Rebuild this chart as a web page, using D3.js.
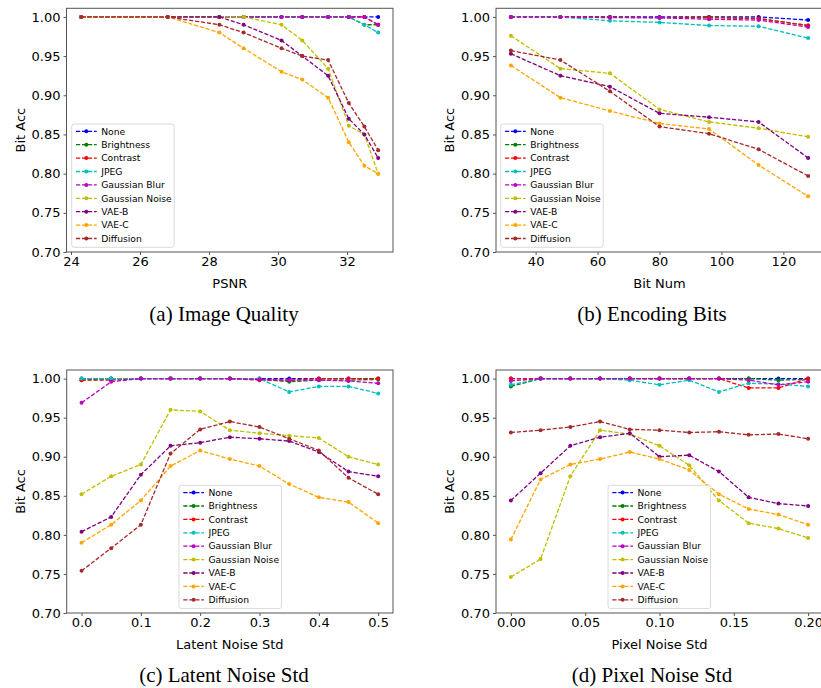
<!DOCTYPE html>
<html>
<head>
<meta charset="utf-8">
<script src="https://cdn.jsdelivr.net/npm/d3@7"></script>
<style>
  body { margin: 0; background: #fff; }
  svg { display: block; }
  .tick text { font-family: "DejaVu Sans", sans-serif; font-size: 13px; fill: #000; }
  .tick line { stroke: #555; }
  .axis-label { font-family: "DejaVu Sans", sans-serif; font-size: 13px; }
  .caption { font-family: "Liberation Serif", "Times New Roman", serif; font-size: 21px; }
  .legend text { font-family: "DejaVu Sans", sans-serif; font-size: 9.2px; }
</style>
</head>
<body>
<div id="chart"></div>
<script>
// series names + matplotlib colours
const names = ["None", "Brightness", "Contrast", "JPEG", "Gaussian Blur", "Gaussian Noise", "VAE-B", "VAE-C", "Diffusion"];
const colors = ["#0000ff", "#008000", "#ff0000", "#00bfbf", "#bf00bf", "#bfbf00", "#800080", "#ffa500", "#a52a2a"];

// (a) image quality
const psnrX = [24.3, 26.8, 28.3, 29.0, 30.1, 30.7, 31.45, 32.05, 32.5, 32.9];
const qualityAcc = [
  [1, 1, 1, 1, 1, 1, 1, 1, 1, 1],
  [1, 1, 1, 1, 1, 1, 1, 1, 0.99, 0.99],
  [1, 1, 1, 1, 1, 1, 1, 1, 1, 0.99],
  [1, 1, 1, 1, 1, 1, 1, 1, 0.99, 0.98],
  [1, 1, 1, 1, 1, 1, 1, 1, 1, 0.99],
  [1, 1, 1, 1, 0.99, 0.97, 0.934, 0.861, 0.85, 0.80],
  [1, 1, 1, 0.99, 0.97, 0.95, 0.925, 0.87, 0.85, 0.82],
  [1, 1, 0.98, 0.96, 0.93, 0.92, 0.897, 0.84, 0.81, 0.80],
  [1, 1, 0.99, 0.98, 0.96, 0.95, 0.945, 0.89, 0.86, 0.83]
];

// (b) encoding bits
const bitX = [32, 48, 64, 80, 96, 112, 128];
const bitsAcc = [
  [1, 1, 1, 1, 1, 1, 0.996],
  [1, 1, 1, 0.999, 1, 0.998, 0.989],
  [1, 1, 0.9995, 0.999, 0.999, 0.998, 0.989],
  [1, 1, 0.995, 0.993, 0.989, 0.988, 0.973],
  [1, 1, 0.999, 0.999, 0.997, 0.996, 0.987],
  [0.976, 0.934, 0.928, 0.882, 0.866, 0.858, 0.847],
  [0.953, 0.925, 0.911, 0.877, 0.872, 0.866, 0.820],
  [0.938, 0.897, 0.880, 0.864, 0.857, 0.811, 0.771],
  [0.957, 0.945, 0.905, 0.860, 0.851, 0.831, 0.797]
];

// (c) latent noise std
const latentX = [0, 0.05, 0.1, 0.15, 0.2, 0.25, 0.3, 0.35, 0.4, 0.45, 0.5];
const latentAcc = [
  [1, 1, 1, 1, 1, 1, 1, 1, 1, 1, 1],
  [0.998, 1, 1, 1, 1, 1, 0.999, 0.996, 0.998, 0.998, 0.999],
  [0.998, 0.998, 1, 1, 1, 1, 0.998, 0.998, 1, 1, 1],
  [1, 1, 1, 1, 1, 1, 1, 0.983, 0.990, 0.990, 0.981],
  [0.969, 0.996, 1, 1, 1, 1, 0.999, 0.998, 0.998, 0.997, 0.994],
  [0.852, 0.875, 0.890, 0.960, 0.958, 0.934, 0.930, 0.927, 0.924, 0.900, 0.890],
  [0.804, 0.823, 0.877, 0.914, 0.918, 0.925, 0.923, 0.920, 0.906, 0.881, 0.875],
  [0.790, 0.813, 0.844, 0.888, 0.908, 0.897, 0.888, 0.865, 0.848, 0.842, 0.815],
  [0.754, 0.783, 0.813, 0.904, 0.935, 0.945, 0.938, 0.923, 0.908, 0.873, 0.852]
];

// (d) pixel noise std
const pixelX = [0, 0.02, 0.04, 0.06, 0.08, 0.10, 0.12, 0.14, 0.16, 0.18, 0.20];
const pixelAcc = [
  [1, 1, 1, 1, 1, 1, 1, 1, 1, 1, 1],
  [0.990, 1, 1, 1, 1, 1, 1, 1, 1, 0.998, 0.999],
  [1, 1, 1, 1, 1, 1, 1, 1, 0.988, 0.988, 1],
  [0.992, 1, 1, 1, 0.998, 0.992, 0.998, 0.983, 0.994, 0.993, 0.990],
  [0.997, 1, 1, 1, 1, 1, 1, 1, 0.998, 0.992, 0.996],
  [0.746, 0.769, 0.875, 0.934, 0.929, 0.914, 0.889, 0.844, 0.815, 0.808, 0.796],
  [0.844, 0.879, 0.914, 0.925, 0.930, 0.900, 0.902, 0.881, 0.848, 0.840, 0.837],
  [0.794, 0.871, 0.890, 0.897, 0.906, 0.897, 0.883, 0.852, 0.833, 0.826, 0.813],
  [0.931, 0.934, 0.938, 0.945, 0.935, 0.934, 0.931, 0.932, 0.928, 0.929, 0.923]
];

const yTicks = [0.70, 0.75, 0.80, 0.85, 0.90, 0.95, 1.00];

const width = 821, height = 688;

const svg = d3.select("#chart")
  .append("svg")
  .attr("width", width)
  .attr("height", height);

const panels = [
  { xs: psnrX, acc: qualityAcc, box: [66.5, 393, 8.3, 252], xdom: [23.87, 33.33],
    xticks: [24, 26, 28, 30, 32], fmt: d3.format("d"), xlabel: "PSNR",
    caption: "(a) Image Quality", legend: [71.7, 124] },
  { xs: bitX, acc: bitsAcc, box: [496, 823, 8.3, 252], xdom: [27.2, 132.8],
    xticks: [40, 60, 80, 100, 120], fmt: d3.format("d"), xlabel: "Bit Num",
    caption: "(b) Encoding Bits", legend: [500.7, 124] },
  { xs: latentX, acc: latentAcc, box: [66.7, 393, 370, 613], xdom: [-0.025, 0.525],
    xticks: [0, 0.1, 0.2, 0.3, 0.4, 0.5], fmt: d3.format(".1f"), xlabel: "Latent Noise Std",
    caption: "(c) Latent Noise Std", legend: [179, 485.3] },
  { xs: pixelX, acc: pixelAcc, box: [496, 823, 370, 613], xdom: [-0.01, 0.21],
    xticks: [0, 0.05, 0.1, 0.15, 0.2], fmt: d3.format(".2f"), xlabel: "Pixel Noise Std",
    caption: "(d) Pixel Noise Std", legend: [608, 485.3] }
];

panels.forEach(p => {
  const [l, r, t, b] = p.box;
  const x = d3.scaleLinear().domain(p.xdom).range([l, r]);
  const y = d3.scaleLinear().domain([0.70, 1.011]).range([b, t]);

  const g = svg.append("g");

  // y axis
  g.append("g")
    .attr("transform", `translate(${l},0)`)
    .call(d3.axisLeft(y).tickValues(yTicks).tickFormat(d3.format(".2f")).tickSize(3).tickSizeOuter(0).tickPadding(3))
    .call(a => a.select(".domain").remove());

  // x axis
  g.append("g")
    .attr("transform", `translate(0,${b})`)
    .call(d3.axisBottom(x).tickValues(p.xticks).tickFormat(p.fmt).tickSize(3).tickSizeOuter(0).tickPadding(2))
    .call(a => a.select(".domain").remove());

  // frame
  g.append("rect")
    .attr("x", l).attr("y", t)
    .attr("width", r - l).attr("height", b - t)
    .attr("fill", "none")
    .attr("stroke", "#555")
    .attr("stroke-width", 1);

  // lines
  const line = d3.line()
    .x((d, i) => x(p.xs[i]))
    .y(d => y(d));

  p.acc.forEach((vals, k) => {
    g.append("path")
      .datum(vals)
      .attr("d", line)
      .attr("fill", "none")
      .attr("stroke", colors[k])
      .attr("stroke-width", 1.3)
      .attr("stroke-dasharray", "4.2,1.8");
    g.selectAll(null)
      .data(vals)
      .join("circle")
      .attr("cx", (d, i) => x(p.xs[i]))
      .attr("cy", d => y(d))
      .attr("r", 2)
      .attr("fill", colors[k]);
  });

  // labels
  g.append("text")
    .attr("class", "axis-label")
    .attr("x", (l + r) / 2)
    .attr("y", b + 36)
    .attr("text-anchor", "middle")
    .text(p.xlabel);

  g.append("text")
    .attr("class", "axis-label")
    .attr("transform", `translate(${l - 42},${(t + b) / 2}) rotate(-90)`)
    .attr("text-anchor", "middle")
    .text("Bit Acc");

  g.append("text")
    .attr("class", "caption")
    .attr("x", p === panels[0] || p === panels[2] ? 224 : 652)
    .attr("y", b + 69)
    .attr("text-anchor", "middle")
    .text(p.caption);

  // legend
  const [lx, ly] = p.legend;
  const leg = g.append("g").attr("class", "legend").attr("transform", `translate(${lx},${ly})`);
  leg.append("rect")
    .attr("width", 102.5).attr("height", 123.3)
    .attr("rx", 2.5)
    .attr("fill", "#fff").attr("fill-opacity", 0.8)
    .attr("stroke", "#d0d0d0").attr("stroke-width", 0.8);
  names.forEach((n, k) => {
    const yy = 7.3 + k * 13.4;
    leg.append("line")
      .attr("x1", 4.3).attr("x2", 25)
      .attr("y1", yy).attr("y2", yy)
      .attr("stroke", colors[k])
      .attr("stroke-width", 1.3)
      .attr("stroke-dasharray", "4.2,1.8");
    leg.append("circle")
      .attr("cx", 14.6).attr("cy", yy).attr("r", 2)
      .attr("fill", colors[k]);
    leg.append("text")
      .attr("x", 29.5).attr("y", yy)
      .attr("dy", "0.35em")
      .text(n);
  });
});
</script>
</body>
</html>
